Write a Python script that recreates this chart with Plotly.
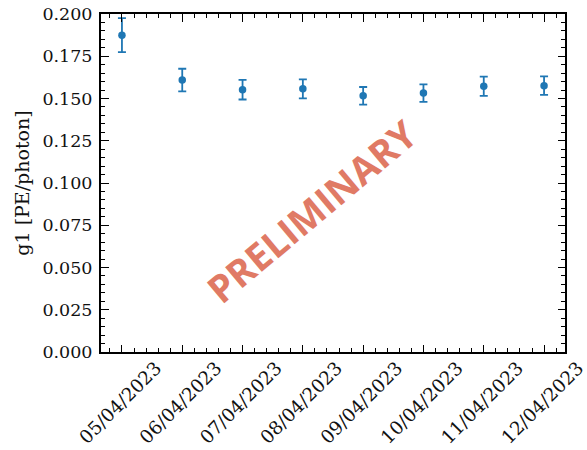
import plotly.graph_objects as go

dates = ["2023-04-05", "2023-04-06", "2023-04-07", "2023-04-08",
         "2023-04-09", "2023-04-10", "2023-04-11", "2023-04-12"]
g1 = [0.1875, 0.1609, 0.1552, 0.1557, 0.1516, 0.1532, 0.1572, 0.1576]
g1_err = [0.0100, 0.0067, 0.0058, 0.0056, 0.0052, 0.0052, 0.0057, 0.0055]
y_ticks = [0.0, 0.025, 0.05, 0.075, 0.1, 0.125, 0.15, 0.175, 0.2]
y_labels = ["0.000", "0.025", "0.050", "0.075", "0.100", "0.125", "0.150", "0.175", "0.200"]

blue = "#1f77b4"
serif = "DejaVu Serif"
fsize = 17.5

fig = go.Figure()
fig.add_trace(go.Scatter(
    x=dates, y=g1, mode="markers",
    marker=dict(color=blue, size=7.5),
    error_y=dict(type="data", array=g1_err, color=blue, thickness=1.8, width=4),
    showlegend=False,
))

axis_common = dict(
    showline=True, linecolor="black", linewidth=2, mirror="allticks",
    ticks="inside", tickcolor="black", tickwidth=1.3, ticklen=7.5,
    showgrid=False, zeroline=False, automargin=False,
)

fig.update_xaxes(
    type="date",
    range=["2023-04-04 15:40", "2023-04-12 08:20"],
    tickvals=dates,
    tickformat="%d/%m/%Y",
    tickangle=-45,
    ticklabelshift=34,
    ticklabelstandoff=-4,
    ticklabeloverflow="allow",
    tickfont=dict(family=serif, size=18.5, color="#111"),
    minor=dict(ticks="inside", tick0="2023-04-05", dtick=0.2 * 86400 * 1000,
               ticklen=4, tickwidth=1, tickcolor="black", showgrid=False),
    **axis_common,
)
fig.update_yaxes(
    range=[0, 0.2],
    tickvals=y_ticks,
    ticktext=y_labels,
    ticklabelstandoff=3,
    tickfont=dict(family=serif, size=fsize, color="#111"),
    minor=dict(ticks="inside", dtick=0.005, ticklen=4, tickwidth=1, tickcolor="black", showgrid=False),
    title=dict(text="g1 [PE/photon]", font=dict(family=serif, size=19, color="#111"), standoff=8),
    **axis_common,
)

fig.add_annotation(
    text="<b>PRELIMINARY</b>", xref="paper", yref="paper",
    x=0.453, y=0.417, showarrow=False, textangle=-40,
    font=dict(family="Open Sans", size=38, color="#e07a65"),
)

fig.update_layout(
    width=587, height=450,
    margin=dict(l=101, r=22, t=14, b=98),
    plot_bgcolor="white", paper_bgcolor="white",
)

fig.write_html("out.html")
